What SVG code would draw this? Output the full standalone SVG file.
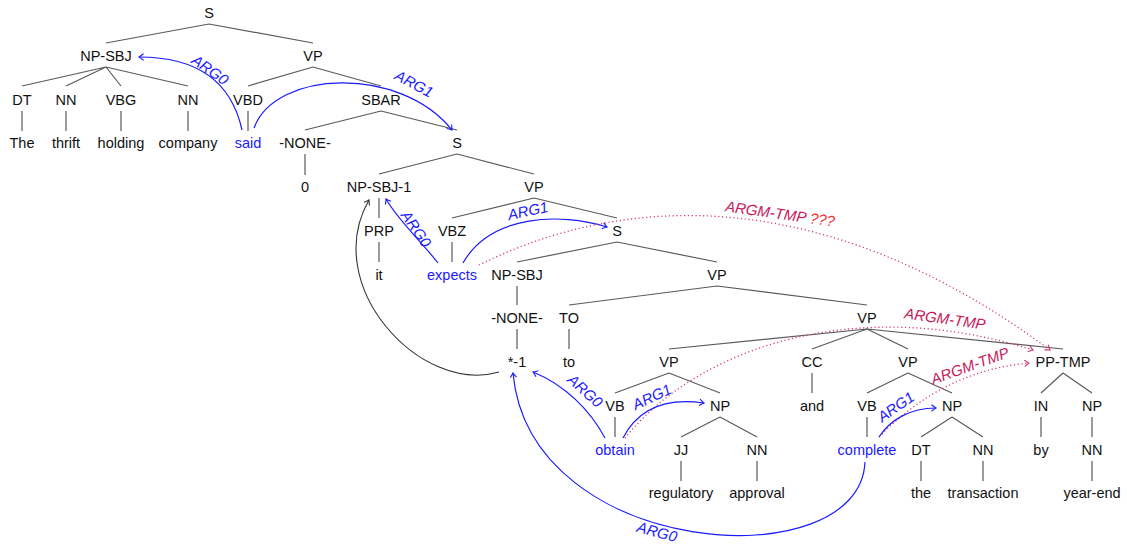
<svg xmlns="http://www.w3.org/2000/svg" width="1127" height="547" viewBox="0 0 1127 547">
<style>
.t{font-family:"Liberation Sans",Arial,sans-serif;font-size:14.5px;text-anchor:middle;fill:#111}
.w{fill:#1a1aff}
.e{stroke:#5a5a5a;stroke-width:1.2;fill:none}
.ab{stroke:#1a1aff;stroke-width:1.2;fill:none;marker-end:url(#mb)}
.ak{stroke:#333;stroke-width:1.1;fill:none;marker-end:url(#mk)}
.ar{stroke:#d43a6e;stroke-width:1.3;fill:none;stroke-dasharray:1.2 2.6;marker-end:url(#mr)}
.lb{font-family:"Liberation Sans",Arial,sans-serif;font-size:15px;font-style:italic;text-anchor:middle}
.lbb{fill:#1a1aff}
.lbr{fill:#c8185a}
.q{fill:#f03030}
</style>
<defs>
<marker id="mb" viewBox="-6 -5 8 10" refX="0" refY="0" markerWidth="8" markerHeight="10" markerUnits="userSpaceOnUse" orient="auto"><path d="M-4.5 -3.2 Q-1.2 -0.6 0 0 Q-1.2 0.6 -4.5 3.2" fill="none" stroke="#1a1aff" stroke-width="1.1"/></marker>
<marker id="mk" viewBox="-6 -5 8 10" refX="0" refY="0" markerWidth="8" markerHeight="10" markerUnits="userSpaceOnUse" orient="auto"><path d="M-4.5 -3.2 Q-1.2 -0.6 0 0 Q-1.2 0.6 -4.5 3.2" fill="none" stroke="#333" stroke-width="1.1"/></marker>
<marker id="mr" viewBox="-6 -5 8 10" refX="0" refY="0" markerWidth="8" markerHeight="10" markerUnits="userSpaceOnUse" orient="auto"><path d="M-4.5 -3.2 Q-1.2 -0.6 0 0 Q-1.2 0.6 -4.5 3.2" fill="none" stroke="#d43a6e" stroke-width="1.1"/></marker>
</defs>

<g id="connectors">
<g id="tree-edges">
<path class="e" d="M209 24L106 43M209 24L313 43"/>
<path class="e" d="M106 67L22 86M106 67L66 86M106 67L121 86M106 67L188 86"/>
<path class="e" d="M313 67L248 86M313 67L381 86"/>
<path class="e" d="M22 111V131M66 111V131M121 111V131M188 111V131M248 111V131"/>
<path class="e" d="M381 111L305 130M381 111L457 130"/>
<path class="e" d="M305 154V175"/>
<path class="e" d="M457 154L379 174M457 154L534 174"/>
<path class="e" d="M379 198V218"/>
<path class="e" d="M534 198L452 218M534 198L617 218"/>
<path class="e" d="M379 242V262M452 242V262"/>
<path class="e" d="M617 242L517 262M617 242L717 262"/>
<path class="e" d="M517 286V305"/>
<path class="e" d="M717 286L569 305M717 286L867 305"/>
<path class="e" d="M517 329V349M569 329V349"/>
<path class="e" d="M867 329L669 349M867 329L812 349M867 329L908 349M867 329L1063 349"/>
<path class="e" d="M669 373L615 393M669 373L720 393"/>
<path class="e" d="M812 373V393"/>
<path class="e" d="M908 373L867 393M908 373L952 393"/>
<path class="e" d="M1063 373L1041 393M1063 373L1092 393"/>
<path class="e" d="M615 417V437M867 417V437M1041 417V437M1092 417V437"/>
<path class="e" d="M720 417L681 437M720 417L757 437"/>
<path class="e" d="M952 417L921 437M952 417L983 437"/>
<path class="e" d="M681 461V481M757 461V481M921 461V481M983 461V481M1092 461V481"/>
</g>
<g id="role-arrows">
<path class="ab" d="M242 130C230 75 190 57 139 57"/>
<path class="ab" d="M254 128C275 70 400 65 452 130"/>
<path class="ab" d="M438 263C420 240 398 220 386 199"/>
<path class="ab" d="M463 263C490 215 560 212 607 227"/>
<path class="ar" d="M479 265C620 195 820 180 1050 350"/>
<path class="ar" d="M625 438C700 345 860 295 1033 350"/>
<path class="ar" d="M879 437C925 390 975 368 1029 363"/>
<path class="ab" d="M623 438C640 405 670 398 704 403"/>
<path class="ab" d="M605 438C590 410 565 385 533 372"/>
<path class="ab" d="M879 437C890 420 910 408 936 408"/>
<path class="ab" d="M865 462C860 580 530 560 513 373"/>
<path class="ak" d="M499 372C420 395 320 285 369 200"/>
</g>
<g id="role-labels">
<text class="lb lbb" transform="translate(210 70) rotate(35)" y="5">ARG0</text>
<text class="lb lbb" transform="translate(414 84) rotate(28)" y="5">ARG1</text>
<text class="lb lbb" transform="translate(416 229) rotate(55)" y="5">ARG0</text>
<text class="lb lbb" transform="translate(528 211) rotate(-12)" y="5">ARG1</text>
<text class="lb lbr" transform="translate(780 214) rotate(8)" y="5">ARGM-TMP <tspan class="q">???</tspan></text>
<text class="lb lbr" transform="translate(945 319) rotate(8)" y="5">ARGM-TMP</text>
<text class="lb lbr" transform="translate(970 366) rotate(-20)" y="5">ARGM-TMP</text>
<text class="lb lbb" transform="translate(652 397) rotate(-25)" y="5">ARG1</text>
<text class="lb lbb" transform="translate(585 391) rotate(42)" y="5">ARG0</text>
<text class="lb lbb" transform="translate(896 407) rotate(-35)" y="5">ARG1</text>
<text class="lb lbb" transform="translate(657 532) rotate(15)" y="5">ARG0</text>
</g>
</g>

<g id="n-S0"><text class="t" x="209" y="18">S</text></g>
<g id="n-NP-SBJ"><text class="t" x="106" y="61">NP-SBJ</text></g>
<g id="n-VP1"><text class="t" x="313" y="61">VP</text></g>
<g id="n-DT1"><text class="t" x="22" y="105">DT</text></g>
<g id="n-NN1"><text class="t" x="66" y="105">NN</text></g>
<g id="n-VBG"><text class="t" x="121" y="105">VBG</text></g>
<g id="n-NN2"><text class="t" x="188" y="105">NN</text></g>
<g id="n-VBD"><text class="t" x="248" y="105">VBD</text></g>
<g id="n-SBAR"><text class="t" x="381" y="105">SBAR</text></g>
<g id="w-The"><text class="t" x="22" y="148">The</text></g>
<g id="w-thrift"><text class="t" x="66" y="148">thrift</text></g>
<g id="w-holding"><text class="t" x="121" y="148">holding</text></g>
<g id="w-company"><text class="t" x="188" y="148">company</text></g>
<g id="w-said"><text class="t w" x="248" y="148">said</text></g>
<g id="n-NONE1"><text class="t" x="305" y="148">-NONE-</text></g>
<g id="n-S3"><text class="t" x="457" y="148">S</text></g>
<g id="w-0"><text class="t" x="305" y="192">0</text></g>
<g id="n-NP-SBJ-1"><text class="t" x="379" y="192">NP-SBJ-1</text></g>
<g id="n-VP4"><text class="t" x="534" y="192">VP</text></g>
<g id="n-PRP"><text class="t" x="379" y="236">PRP</text></g>
<g id="n-VBZ"><text class="t" x="452" y="236">VBZ</text></g>
<g id="n-S5"><text class="t" x="617" y="236">S</text></g>
<g id="w-it"><text class="t" x="379" y="280">it</text></g>
<g id="w-expects"><text class="t w" x="452" y="280">expects</text></g>
<g id="n-NP-SBJ6"><text class="t" x="517" y="280">NP-SBJ</text></g>
<g id="n-VP6"><text class="t" x="717" y="280">VP</text></g>
<g id="n-NONE7"><text class="t" x="517" y="323">-NONE-</text></g>
<g id="n-TO"><text class="t" x="569" y="323">TO</text></g>
<g id="n-VP7"><text class="t" x="867" y="323">VP</text></g>
<g id="w-star"><text class="t" x="517" y="367">*-1</text></g>
<g id="w-to"><text class="t" x="569" y="367">to</text></g>
<g id="n-VP8a"><text class="t" x="669" y="367">VP</text></g>
<g id="n-CC"><text class="t" x="812" y="367">CC</text></g>
<g id="n-VP8b"><text class="t" x="908" y="367">VP</text></g>
<g id="n-PP-TMP"><text class="t" x="1063" y="367">PP-TMP</text></g>
<g id="n-VB9a"><text class="t" x="615" y="411">VB</text></g>
<g id="n-NP9a"><text class="t" x="720" y="411">NP</text></g>
<g id="w-and"><text class="t" x="812" y="411">and</text></g>
<g id="n-VB9b"><text class="t" x="867" y="411">VB</text></g>
<g id="n-NP9b"><text class="t" x="952" y="411">NP</text></g>
<g id="n-IN"><text class="t" x="1041" y="411">IN</text></g>
<g id="n-NP9c"><text class="t" x="1092" y="411">NP</text></g>
<g id="w-obtain"><text class="t w" x="615" y="455">obtain</text></g>
<g id="n-JJ"><text class="t" x="681" y="455">JJ</text></g>
<g id="n-NN10a"><text class="t" x="757" y="455">NN</text></g>
<g id="w-complete"><text class="t w" x="867" y="455">complete</text></g>
<g id="n-DT10"><text class="t" x="921" y="455">DT</text></g>
<g id="n-NN10b"><text class="t" x="983" y="455">NN</text></g>
<g id="w-by"><text class="t" x="1041" y="455">by</text></g>
<g id="n-NN10c"><text class="t" x="1092" y="455">NN</text></g>
<g id="w-regulatory"><text class="t" x="681" y="498">regulatory</text></g>
<g id="w-approval"><text class="t" x="757" y="498">approval</text></g>
<g id="w-the"><text class="t" x="921" y="498">the</text></g>
<g id="w-transaction"><text class="t" x="983" y="498">transaction</text></g>
<g id="w-year-end"><text class="t" x="1092" y="498">year-end</text></g>
</svg>
